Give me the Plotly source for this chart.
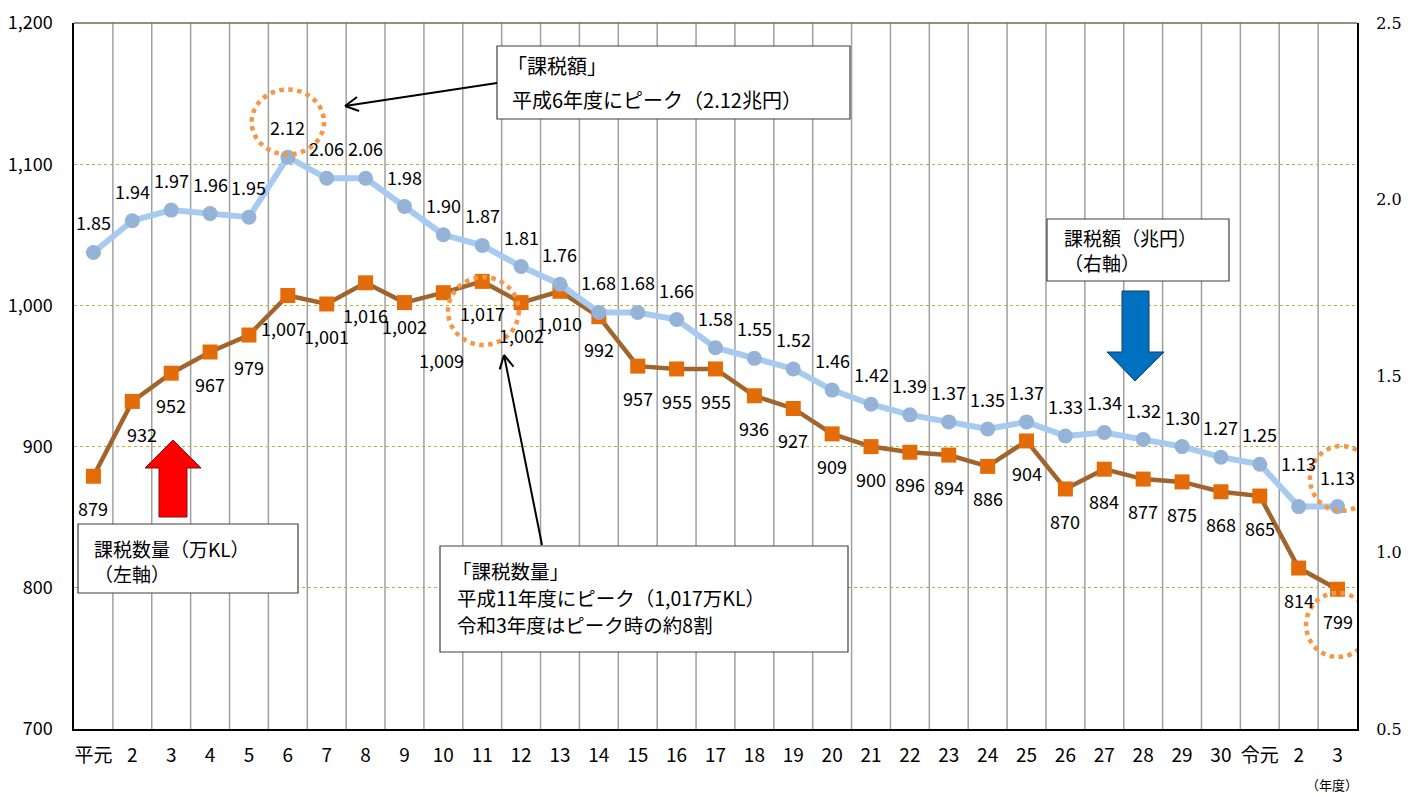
import math
import plotly.graph_objects as go

# ---------------- data ----------------
x_labels = ["平元", "2", "3", "4", "5", "6", "7", "8", "9", "10", "11", "12", "13", "14",
            "15", "16", "17", "18", "19", "20", "21", "22", "23", "24", "25", "26", "27",
            "28", "29", "30", "令元", "2", "3"]
volume = [879, 932, 952, 967, 979, 1007, 1001, 1016, 1002, 1009, 1017, 1002, 1010, 992,
          957, 955, 955, 936, 927, 909, 900, 896, 894, 886, 904, 870, 884, 877, 875, 868,
          865, 814, 799]
tax = [1.85, 1.94, 1.97, 1.96, 1.95, 2.12, 2.06, 2.06, 1.98, 1.90, 1.87, 1.81, 1.76, 1.68,
       1.68, 1.66, 1.58, 1.55, 1.52, 1.46, 1.42, 1.39, 1.37, 1.35, 1.37, 1.33, 1.34, 1.32,
       1.30, 1.27, 1.25, 1.13, 1.13]
left_ticks = [700, 800, 900, 1000, 1100, 1200]
right_ticks = [0.5, 1.0, 1.5, 2.0, 2.5]

xs = list(range(len(x_labels)))

# ---------------- layout geometry (page pixels) ----------------
W_IMG, H_IMG = 1419, 796
OFF = 8  # default body margin of the html page
L, R, T, B = 74, 1357, 23, 729
PW, PH = R - L, B - T
FIG_W, FIG_H = W_IMG - OFF, H_IMG - OFF


def px(x):
    return (x - L) / PW


def py(y):
    return (B - y) / PH


JP = "Noto Sans CJK JP"
SERIF = "DejaVu Serif"

fig = go.Figure()

fig.add_trace(go.Scatter(
    x=xs, y=volume, mode="lines+markers", yaxis="y",
    line=dict(color="#A0642C", width=4.5),
    marker=dict(symbol="square", size=15, color="#E36C09"),
    hoverinfo="skip", showlegend=False))

fig.add_trace(go.Scatter(
    x=xs, y=tax, mode="lines+markers", yaxis="y2",
    line=dict(color="#A6CAF0", width=6),
    marker=dict(symbol="circle", size=15, color="#95B3D7"),
    hoverinfo="skip", showlegend=False))

annotations = []
shapes = []

# data labels
vol_shift = {1: (10, -33), 8: (0, -23), 9: (-2, -67), 5: (-4, -32)}
tax_shift = {31: (0, 44)}
for i, v in enumerate(volume):
    dx, dy = vol_shift.get(i, (0, -32))
    annotations.append(dict(x=i, y=v, xref="x", yref="y", text=f"{v:,}", showarrow=False,
                            xshift=dx, yshift=dy, font=dict(family=JP, size=18, color="#000")))
for i, v in enumerate(tax):
    dx, dy = tax_shift.get(i, (0, 30))
    annotations.append(dict(x=i, y=v, xref="x", yref="y2", text=f"{v:.2f}", showarrow=False,
                            xshift=dx, yshift=dy, font=dict(family=JP, size=18, color="#000")))

# vertical grid lines at category boundaries
for i in range(len(x_labels) - 1):
    shapes.append(dict(type="line", xref="x", yref="paper", x0=i + 0.5, x1=i + 0.5, y0=0, y1=1,
                       line=dict(color="#A0A0A0", width=1.5), layer="below"))
# top border
shapes.append(dict(type="line", xref="paper", yref="paper", x0=0, x1=1, y0=1, y1=1,
                   line=dict(color="#6E6E50", width=1.5)))


def box(x0, y0, x1, y1):
    shapes.append(dict(type="rect", xref="paper", yref="paper",
                       x0=px(x0), x1=px(x1), y0=py(y1), y1=py(y0),
                       line=dict(color="#404040", width=1.2), fillcolor="white", layer="above"))


def text_block(x, y, lines, size=20):
    annotations.append(dict(x=px(x), y=py(y), xref="paper", yref="paper",
                            text="<br>".join(lines), align="left",
                            showarrow=False, xanchor="left", yanchor="middle",
                            font=dict(family=JP, size=size, color="#000")))


def arrow(tx, ty, hx, hy, wing=15, ang=28):
    shapes.append(dict(type="line", xref="paper", yref="paper",
                       x0=px(tx), y0=py(ty), x1=px(hx), y1=py(hy),
                       line=dict(color="#000", width=2), layer="above"))
    dx, dy = tx - hx, ty - hy
    n = math.hypot(dx, dy)
    ux, uy = dx / n, dy / n
    for s in (1, -1):
        a = math.radians(ang) * s
        wx = ux * math.cos(a) - uy * math.sin(a)
        wy = ux * math.sin(a) + uy * math.cos(a)
        shapes.append(dict(type="line", xref="paper", yref="paper",
                           x0=px(hx), y0=py(hy), x1=px(hx + wx * wing), y1=py(hy + wy * wing),
                           line=dict(color="#000", width=2), layer="above"))


def poly(points, fill, line):
    path = "M " + " L ".join(f"{px(x):.5f},{py(y):.5f}" for x, y in points) + " Z"
    shapes.append(dict(type="path", xref="paper", yref="paper", path=path,
                       fillcolor=fill, line=dict(color=line, width=1), layer="above"))


# callout boxes
box(497, 46, 850, 119)
text_block(505, 65, ["「課税額」"])
text_block(510, 100, ["平成6年度にピーク（2.12兆円）"])
arrow(497, 83, 345, 106)

box(78, 524, 298, 593)
text_block(92, 560.5, ["課税数量（万KL）", "（左軸）"], size=19)

box(440, 546, 848, 652)
text_block(450, 570, ["「課税数量」"], size=19.5)
text_block(455, 597, ["平成11年度にピーク（1,017万KL）"], size=19.5)
text_block(455, 624, ["令和3年度はピーク時の約8割"], size=19.5)
arrow(542, 545, 504, 355)

box(1047, 219, 1229, 281)
text_block(1062, 250, ["課税額（兆円）", "（右軸）"], size=19)

# block arrows
poly([(173, 440), (201, 468), (187, 468), (187, 517), (159, 517), (159, 468), (145, 468)],
     "#FF0000", "#7F1010")
poly([(1122, 291), (1149, 291), (1149, 352), (1164, 352), (1135, 381), (1107, 352), (1122, 352)],
     "#0070C0", "#1F3A5F")

# dotted highlight circles (data coordinates)
for cx, cy, rx, ry in [(5.0, 1129.9, 0.93, 23.0), (10.03, 996.0, 0.91, 24.0),
                       (32.1, 877.4, 0.81, 23.0), (32.01, 773.7, 0.82, 22.7)]:
    shapes.append(dict(type="circle", xref="x", yref="y", x0=cx - rx, x1=cx + rx,
                       y0=cy - ry, y1=cy + ry,
                       line=dict(color="#F79646", width=4.5, dash="dot"), layer="above"))

annotations.append(dict(x=px(1360), y=py(796), xref="paper", yref="paper", text="（年度）",
                        xanchor="right", yanchor="bottom",
                        showarrow=False, font=dict(family=JP, size=13, color="#000")))

fig.update_layout(
    width=FIG_W, height=FIG_H,
    margin=dict(l=L - OFF, r=W_IMG - R, t=T - OFF, b=H_IMG - B, pad=0, autoexpand=False),
    plot_bgcolor="white", paper_bgcolor="white",
    font=dict(family=JP, size=18, color="#000"),
    xaxis=dict(range=[-0.5, len(x_labels) - 0.5], tickmode="array", tickvals=xs,
               ticktext=x_labels, showgrid=False, zeroline=False, showline=True,
               linecolor="#000", linewidth=1.5, ticks="", ticklabelstandoff=8,
               automargin=False, tickfont=dict(family=JP, size=19)),
    yaxis=dict(range=[700, 1200], tickmode="array", tickvals=left_ticks, tickformat=",",
               showgrid=True, gridcolor="#B4B43C", gridwidth=1, griddash="dot",
               zeroline=False, showline=True, linecolor="#000", linewidth=1.5, ticks="",
               automargin=False, ticklabelstandoff=16, tickfont=dict(family=JP, size=18)),
    yaxis2=dict(range=[0.5, 2.5], tickmode="array", tickvals=right_ticks, tickformat=".1f",
                overlaying="y", side="right", showgrid=False, zeroline=False,
                showline=True, linecolor="#000", linewidth=2, ticks="",
                automargin=False, ticklabelstandoff=14, tickfont=dict(family=SERIF, size=16)),
    annotations=annotations, shapes=shapes, showlegend=False,
)

fig.write_html("out.html")
